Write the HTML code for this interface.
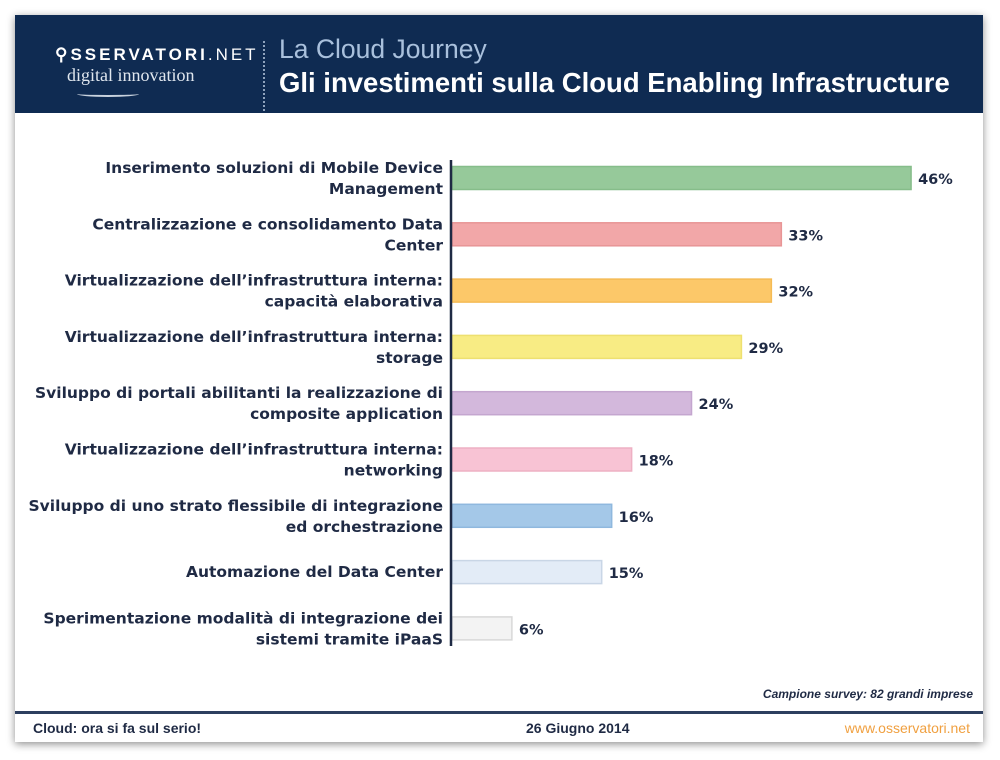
<!DOCTYPE html>
<html><head><meta charset="utf-8">
<style>
html,body{margin:0;padding:0;background:#fff;}
body{width:1000px;height:760px;position:relative;overflow:hidden;font-family:"Liberation Sans",sans-serif;}
#card{position:absolute;left:15px;top:15px;width:968px;height:727px;background:#fff;box-shadow:0 2px 8px rgba(0,0,0,0.45);}
#header{position:absolute;left:0;top:0;width:968px;height:98px;background:#0f2b52;}
</style></head>
<body>
<div id="card">
  <div id="header">
    <div style="position:absolute;left:40px;top:30px;color:#fff;font-size:17px;letter-spacing:3px;font-weight:bold;">⚲SSERVATORI<span style="font-weight:normal">.NET</span></div>
    <div style="position:absolute;left:52px;top:50px;color:#dfe6ee;font-family:'Liberation Serif',serif;font-size:18px;">digital innovation</div>
    <div style="position:absolute;left:62px;top:76px;width:62px;height:4px;border-bottom:2px solid #c8d2de;border-radius:0 0 50% 50%;"></div>
    <div style="position:absolute;left:248px;top:26px;height:70px;border-left:2px dotted #8fa3bd;"></div>
    <div style="position:absolute;left:264px;top:19px;color:#a9c0dc;font-size:26.5px;">La Cloud Journey</div>
    <div style="position:absolute;left:264px;top:52px;color:#fff;font-size:27.5px;font-weight:bold;">Gli investimenti sulla Cloud Enabling Infrastructure</div>
  </div>
</div>
<svg id="chart" width="1000" height="760" style="position:absolute;left:0;top:0;"></svg>
<div style="position:absolute;right:27px;top:687px;font-size:12px;font-style:italic;font-weight:bold;color:#1f2a44;">Campione survey: 82 grandi imprese</div>
<div style="position:absolute;left:15px;top:711px;width:968px;height:3px;background:#2d3f5f;"></div>
<div style="position:absolute;left:33px;top:720px;font-size:14px;font-weight:bold;color:#1f2a44;">Cloud: ora si fa sul serio!</div>
<div style="position:absolute;left:526px;top:720px;font-size:14px;font-weight:bold;color:#1f2a44;">26 Giugno 2014</div>
<div style="position:absolute;right:30px;top:720px;font-size:14px;color:#f0a040;">www.osservatori.net</div>
<script>
const categories=[
 ["Inserimento soluzioni di Mobile Device","Management"],
 ["Centralizzazione e consolidamento Data","Center"],
 ["Virtualizzazione dell’infrastruttura interna:","capacità elaborativa"],
 ["Virtualizzazione dell’infrastruttura interna:","storage"],
 ["Sviluppo di portali abilitanti la realizzazione di","composite application"],
 ["Virtualizzazione dell’infrastruttura interna:","networking"],
 ["Sviluppo di uno strato flessibile di integrazione","ed orchestrazione"],
 ["Automazione del Data Center"],
 ["Sperimentazione modalità di integrazione dei","sistemi tramite iPaaS"]
];
const values=[46,33,32,29,24,18,16,15,6];
const valueLabels=["46%","33%","32%","29%","24%","18%","16%","15%","6%"];
const fills=["#96c99a","#f2a7a8","#fcc869","#f8ec84","#d3b8dc","#f8c3d4","#a4c8e8","#e3ecf7","#f3f3f3"];
const strokes=["#86bd8a","#e89596","#f5bb55","#eee070","#c4a6cf","#eeb0c3","#8fb8de","#c9d6e6","#d8d8d8"];

const svg=document.getElementById('chart');
const NS='http://www.w3.org/2000/svg';
const x0=452, pxPer=9.98;
const xScale=v=>x0+v*pxPer;
const yScale=i=>178+i*56.3;
const barH=23;
const FONT='DejaVu Sans, Verdana, sans-serif';
function mk(t){return document.createElementNS(NS,t);}
values.forEach((v,i)=>{
  const cy=yScale(i);
  const r=mk('rect');
  
  
  r.setAttribute('x',x0);r.setAttribute('y',cy-barH/2);
  r.setAttribute('width',xScale(v)-x0);r.setAttribute('height',barH);
  r.setAttribute('fill',fills[i]);r.setAttribute('stroke',strokes[i]);r.setAttribute('stroke-width','1.5');
  svg.appendChild(r);
  const t=mk('text');
  
  
  t.setAttribute('x',xScale(v)+7);t.setAttribute('y',cy+6);
  t.setAttribute('font-size','14.5');t.setAttribute('font-weight','bold');t.setAttribute('fill','#1f2a44');
  t.setAttribute('font-family',FONT);
  t.textContent=valueLabels[i];
  svg.appendChild(t);
  const lines=categories[i];
  lines.forEach((ln,j)=>{
    const c=mk('text');
    
    
    const off=lines.length===1?5:(j===0?-5:16);
    c.setAttribute('x',443);c.setAttribute('y',cy+off);
    c.setAttribute('text-anchor','end');
    c.setAttribute('font-size','15.5');c.setAttribute('font-weight','bold');c.setAttribute('fill','#1f2a44');
    c.setAttribute('font-family',FONT);
    c.textContent=ln;
    svg.appendChild(c);
  });
});
const ax=mk('line');


ax.setAttribute('x1',451);ax.setAttribute('x2',451);ax.setAttribute('y1',160);ax.setAttribute('y2',646);
ax.setAttribute('stroke','#1f2a44');ax.setAttribute('stroke-width','2.5');
svg.appendChild(ax);
</script>
</body></html>
